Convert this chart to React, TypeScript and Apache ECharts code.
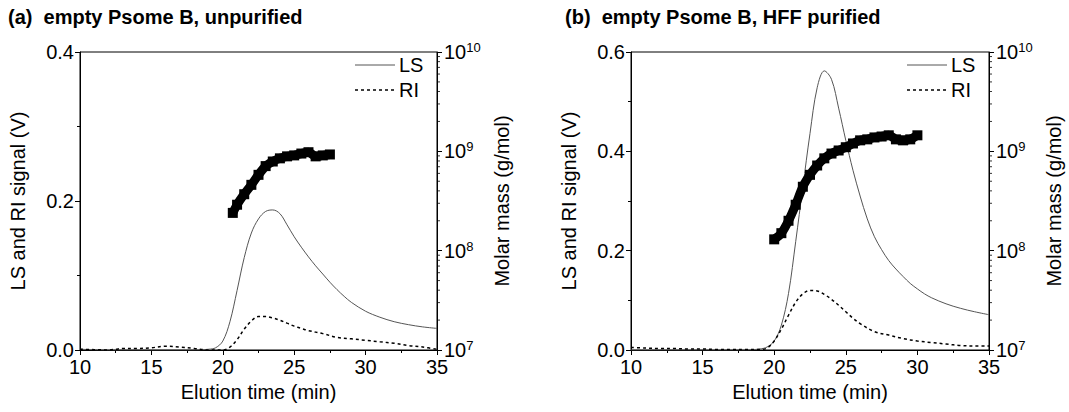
import React, { useEffect, useRef } from "react";
import * as echarts from "echarts";

const FONT = '"Liberation Sans", Arial, Helvetica, sans-serif';

const titleA = "(a)  empty Psome B, unpurified";
const titleB = "(b)  empty Psome B, HFF purified";
const xName = "Elution time (min)";
const yLeftName = "LS and RI signal (V)";
const yRightName = "Molar mass (g/mol)";
const legendNames = ["LS", "RI"];

// Panel (a)
const lsATime = [10, 12, 14, 16, 18, 19, 19.5, 20, 20.5, 21, 21.5, 22, 22.5, 23, 23.5, 24, 24.5, 25, 25.5, 26, 26.5, 27, 27.5, 28, 28.5, 29, 30, 31, 32, 33, 34, 35];
const lsAValue = [0.001, 0.0, 0.0, 0.0, 0.0, 0.001, 0.003, 0.012, 0.038, 0.08, 0.124, 0.157, 0.176, 0.186, 0.188, 0.183, 0.168, 0.152, 0.138, 0.125, 0.113, 0.102, 0.091, 0.081, 0.072, 0.064, 0.052, 0.044, 0.038, 0.034, 0.031, 0.029];
const riATime = [10, 11, 12, 12.5, 13, 14, 15, 16, 17, 18, 19, 20, 20.5, 21, 21.5, 22, 22.5, 23, 23.5, 24, 24.5, 25, 25.5, 26, 27, 28, 29, 30, 31, 32, 33, 34, 35];
const riAValue = [0.001, 0.0005, 0.0, 0.001, 0.002, 0.002, 0.003, 0.005, 0.004, 0.002, 0.0, 0.0, 0.004, 0.014, 0.028, 0.039, 0.045, 0.045, 0.043, 0.04, 0.036, 0.032, 0.029, 0.026, 0.022, 0.017, 0.015, 0.013, 0.011, 0.009, 0.006, 0.004, 0.001];
const mmATime = [20.7, 21, 21.5, 22, 22.5, 23, 23.5, 24, 24.5, 25, 25.5, 26, 26.5, 27, 27.5];
const mmAValue = [2.4e8, 2.9e8, 3.7e8, 4.6e8, 5.8e8, 7.1e8, 7.9e8, 8.5e8, 8.9e8, 9.1e8, 9.5e8, 9.8e8, 8.9e8, 9.1e8, 9.3e8];

// Panel (b)
const lsBTime = [10, 12, 14, 16, 18, 19, 19.5, 20, 20.5, 21, 21.5, 22, 22.5, 23, 23.5, 24, 24.5, 25, 25.5, 26, 26.5, 27, 27.5, 28, 28.5, 29, 29.5, 30, 30.5, 31, 32, 33, 34, 35];
const lsBValue = [0.0, 0.0, 0.0, 0.0, 0.0, 0.002, 0.006, 0.018, 0.05, 0.114, 0.218, 0.328, 0.436, 0.528, 0.562, 0.545, 0.487, 0.422, 0.362, 0.31, 0.264, 0.228, 0.202, 0.18, 0.163, 0.148, 0.134, 0.123, 0.113, 0.105, 0.093, 0.084, 0.077, 0.071];
const riBTime = [10, 11, 12, 13, 14, 15, 16, 17, 18, 19, 19.5, 20, 20.5, 21, 21.5, 22, 22.5, 23, 23.5, 24, 24.5, 25, 25.5, 26, 27, 28, 29, 30, 31, 32, 33, 34, 35];
const riBValue = [0.005, 0.004, 0.003, 0.003, 0.002, 0.002, 0.001, 0.001, 0.001, 0.001, 0.004, 0.018, 0.042, 0.07, 0.096, 0.113, 0.12, 0.119, 0.112, 0.102, 0.09, 0.077, 0.064, 0.053, 0.037, 0.03, 0.023, 0.018, 0.015, 0.012, 0.009, 0.008, 0.008];
const mmBTime = [20, 20.5, 21, 21.5, 22, 22.5, 23, 23.5, 24, 24.5, 25, 25.5, 26, 26.5, 27, 27.5, 28, 28.5, 29, 29.5, 30];
const mmBValue = [1.3e8, 1.5e8, 2.0e8, 2.9e8, 4.4e8, 5.8e8, 7.2e8, 8.5e8, 9.5e8, 1.02e9, 1.1e9, 1.2e9, 1.29e9, 1.32e9, 1.38e9, 1.41e9, 1.45e9, 1.32e9, 1.29e9, 1.32e9, 1.45e9];

// log minor tick positions for the molar mass axis
const logMinorTicks = [2e7, 3e7, 4e7, 5e7, 6e7, 7e7, 8e7, 9e7, 2e8, 3e8, 4e8, 5e8, 6e8, 7e8, 8e8, 9e8, 2e9, 3e9, 4e9, 5e9, 6e9, 7e9, 8e9, 9e9];

const zip = (a: number[], b: number[]) => a.map((t, i) => [t, b[i]]);

const grids = [
  { left: 80, top: 52, width: 357, height: 298 },
  { left: 631, top: 52, width: 358, height: 298 },
];

const TICK_FS = 20;
const NAME_FS = 20;

function makeX(gi: number) {
  return {
    type: "value",
    gridIndex: gi,
    min: 10,
    max: 35,
    interval: 5,
    name: xName,
    nameLocation: "middle",
    nameGap: 32,
    nameTextStyle: { fontFamily: FONT, fontSize: NAME_FS, color: "#000" },
    axisLine: { show: true, onZero: false, lineStyle: { color: "#000", width: 1 } },
    axisTick: { show: true, length: 5, lineStyle: { color: "#000" } },
    minorTick: { show: true, splitNumber: 2, length: 3, lineStyle: { color: "#000" } },
    axisLabel: { fontFamily: FONT, fontSize: TICK_FS, color: "#000", margin: 7 },
    splitLine: { show: false },
  };
}

function makeYLeft(gi: number, max: number) {
  return {
    type: "value",
    gridIndex: gi,
    position: "left",
    min: 0,
    max,
    interval: 0.2,
    name: yLeftName,
    nameLocation: "middle",
    nameRotate: 90,
    nameGap: 52,
    nameTextStyle: { fontFamily: FONT, fontSize: NAME_FS, color: "#000" },
    axisLine: { show: true, onZero: false, lineStyle: { color: "#000", width: 1 } },
    axisTick: { show: true, length: 5, lineStyle: { color: "#000" } },
    minorTick: { show: true, splitNumber: 2, length: 3, lineStyle: { color: "#000" } },
    axisLabel: {
      fontFamily: FONT,
      fontSize: TICK_FS,
      color: "#000",
      margin: 6,
      formatter: (v: number) => v.toFixed(1),
    },
    splitLine: { show: false },
  };
}

function makeYRight(gi: number) {
  return {
    type: "log",
    logBase: 10,
    gridIndex: gi,
    position: "right",
    min: 1e7,
    max: 1e10,
    name: yRightName,
    nameLocation: "middle",
    nameRotate: 90,
    nameGap: 55,
    nameTextStyle: { fontFamily: FONT, fontSize: NAME_FS, color: "#000" },
    axisLine: { show: true, onZero: false, lineStyle: { color: "#000", width: 1 } },
    axisTick: { show: true, length: 5, lineStyle: { color: "#000" } },
    minorTick: { show: false },
    axisLabel: {
      fontFamily: FONT,
      fontSize: TICK_FS,
      color: "#000",
      margin: 7,
      formatter: (v: number) => "{b|10}{s|" + Math.round(Math.log10(v)) + "}",
      rich: {
        b: { fontFamily: FONT, fontSize: TICK_FS, color: "#000", lineHeight: 22 },
        s: { fontFamily: FONT, fontSize: 13, color: "#000", verticalAlign: "top", lineHeight: 22, padding: [0, 0, 9, 0] },
      },
    },
    splitLine: { show: false },
  };
}

function panelSeries(gi: number, ls: number[][], ri: number[][], mm: number[][]) {
  const yl = gi * 2;
  const yr = gi * 2 + 1;
  return [
    {
      name: "LS",
      type: "line",
      xAxisIndex: gi,
      yAxisIndex: yl,
      data: ls,
      symbol: "none",
      smooth: 0.35,
      lineStyle: { color: "#555", width: 1 },
      itemStyle: { color: "#555" },
    },
    {
      name: "RI",
      type: "line",
      xAxisIndex: gi,
      yAxisIndex: yl,
      data: ri,
      symbol: "none",
      smooth: 0.35,
      lineStyle: { color: "#000", width: 1.5, type: [3, 3] },
      itemStyle: { color: "#000" },
    },
    {
      name: "Molar mass",
      type: "line",
      xAxisIndex: gi,
      yAxisIndex: yr,
      data: mm,
      symbol: "rect",
      symbolSize: 10,
      smooth: 0.3,
      lineStyle: { color: "#000", width: 9 },
      itemStyle: { color: "#000" },
    },
    {
      name: "logMinor",
      type: "scatter",
      xAxisIndex: gi,
      yAxisIndex: yr,
      data: logMinorTicks.map((v) => [35, v]),
      symbol: "rect",
      symbolSize: [3, 1],
      symbolOffset: [1.5, 0],
      clip: false,
      silent: true,
      itemStyle: { color: "#000" },
    },
  ];
}

function legendGraphic(x: number, y: number) {
  return [
    { type: "line", shape: { x1: x, y1: y, x2: x + 40, y2: y }, style: { stroke: "#555", lineWidth: 1 } },
    { type: "text", x: x + 44, y: y, style: { text: legendNames[0], fontFamily: FONT, fontSize: NAME_FS, fill: "#000", verticalAlign: "middle" } },
    { type: "line", shape: { x1: x, y1: y + 25, x2: x + 40, y2: y + 25 }, style: { stroke: "#000", lineWidth: 1.5, lineDash: [3, 3] } },
    { type: "text", x: x + 44, y: y + 25, style: { text: legendNames[1], fontFamily: FONT, fontSize: NAME_FS, fill: "#000", verticalAlign: "middle" } },
  ];
}

export default function App() {
  const ref = useRef<HTMLDivElement>(null);
  useEffect(() => {
    document.body.style.margin = "0";
    if (!ref.current) return;
    const chart = echarts.init(ref.current, undefined, { renderer: "svg" });
    chart.setOption({
      animation: false,
      backgroundColor: "#fff",
      title: [
        { text: titleA, left: 3, top: 2, textStyle: { fontFamily: FONT, fontSize: 20, fontWeight: "bold", color: "#000" } },
        { text: titleB, left: 560, top: 2, textStyle: { fontFamily: FONT, fontSize: 20, fontWeight: "bold", color: "#000" } },
      ],
      graphic: [...legendGraphic(355, 65), ...legendGraphic(907, 65)],
      grid: grids.map((g) => ({ ...g, show: true, borderColor: "#000", borderWidth: 1, backgroundColor: "transparent" })),
      xAxis: [makeX(0), makeX(1)],
      yAxis: [makeYLeft(0, 0.4), makeYRight(0), makeYLeft(1, 0.6), makeYRight(1)],
      series: [
        ...panelSeries(0, zip(lsATime, lsAValue), zip(riATime, riAValue), zip(mmATime, mmAValue)),
        ...panelSeries(1, zip(lsBTime, lsBValue), zip(riBTime, riBValue), zip(mmBTime, mmBValue)),
      ],
    });
    return () => chart.dispose();
  }, []);
  return <div ref={ref} style={{ width: 1069, height: 412 }} />;
}
